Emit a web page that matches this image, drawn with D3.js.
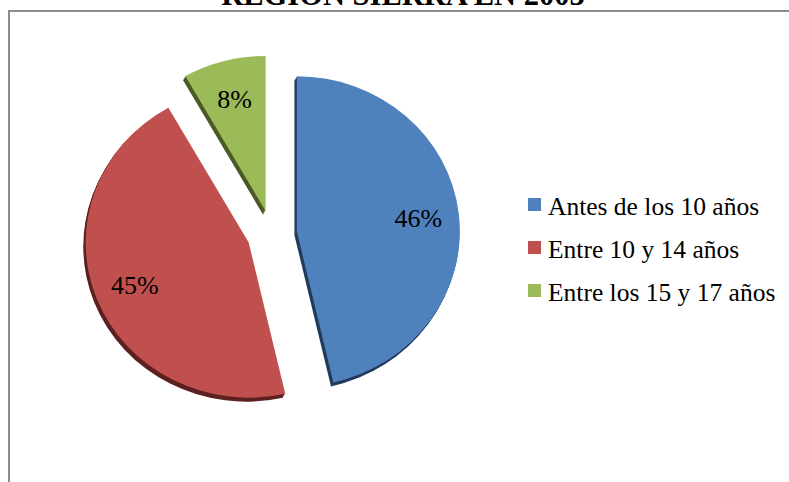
<!DOCTYPE html>
<html>
<head>
<meta charset="utf-8">
<script src="https://cdn.jsdelivr.net/npm/d3@7"></script>
<style>
  html, body { margin: 0; padding: 0; background: #fff; }
  svg { display: block; }
  svg text { font-family: "Times New Roman", "Liberation Serif", "DejaVu Serif", serif; }
</style>
</head>
<body>
<svg id="chart"></svg>
<script>
  const width = 789;
  const height = 482;

  // chart data
  const title = "REGION SIERRA EN 2003";
  const categories = ["Antes de los 10 años", "Entre 10 y 14 años", "Entre los 15 y 17 años"];
  const values = [46.4, 45.4, 8.2];
  const colors = ["#4f81bd", "#c0504d", "#9bbb59"];
  const sideColors = ["#223b5c", "#5c2120", "#4b5b27"];

  const radius = 163;
  const ky = 0.951;          // slight tilt of the pie
  const explode = 25;
  const depth = 4;
  const cx = 272, cy = 234;

  const svg = d3.select("#chart")
    .attr("width", width)
    .attr("height", height);

  // chart frame (runs past the right and bottom edge)
  svg.append("rect")
    .attr("x", 9)
    .attr("y", 11)
    .attr("width", 820)
    .attr("height", 520)
    .attr("fill", "none")
    .attr("stroke", "#8c8c8c")
    .attr("stroke-width", 2);

  // title, clipped at the top of the picture as in the original
  svg.append("text")
    .attr("x", 403)
    .attr("y", 5)
    .attr("text-anchor", "middle")
    .attr("font-weight", "bold")
    .attr("font-size", "30.5px")
    .attr("fill", "#000")
    .text(title);

  const pie = d3.pie().sort(null).value(d => d)(values);
  const arc = d3.arc().innerRadius(0).outerRadius(radius);

  const offset = d => {
    const a = (d.startAngle + d.endAngle) / 2;
    return [Math.sin(a) * explode, -Math.cos(a) * explode * ky];
  };

  const g = svg.append("g")
    .attr("transform", `translate(${cx},${cy})`);

  // side (thickness) of each slice
  for (let k = depth; k >= 1; k--) {
    g.selectAll(null)
      .data(pie)
      .enter()
      .append("path")
      .attr("transform", d => {
        const [ox, oy] = offset(d);
        return `translate(${ox - k * 0.6},${oy + k})scale(1,${ky})`;
      })
      .attr("d", arc)
      .attr("fill", (d, i) => sideColors[i]);
  }

  // top face of each slice
  g.selectAll(".slice")
    .data(pie)
    .enter()
    .append("path")
    .attr("class", "slice")
    .attr("transform", d => {
      const [ox, oy] = offset(d);
      return `translate(${ox},${oy})scale(1,${ky})`;
    })
    .attr("d", arc)
    .attr("fill", (d, i) => colors[i]);

  // percentage labels
  const labelArc = d3.arc().innerRadius(radius * 0.75).outerRadius(radius * 0.75);
  const total = d3.sum(values);
  g.selectAll(".pct")
    .data(pie)
    .enter()
    .append("text")
    .attr("class", "pct")
    .attr("x", d => offset(d)[0] + labelArc.centroid(d)[0])
    .attr("y", d => offset(d)[1] + labelArc.centroid(d)[1] * ky)
    .attr("dy", "0.35em")
    .attr("text-anchor", "middle")
    .attr("font-size", "26px")
    .attr("fill", "#000")
    .text(d => Math.round(d.value / total * 100) + "%");

  // legend
  const legend = svg.append("g")
    .attr("transform", "translate(528,198)");

  const row = legend.selectAll("g")
    .data(categories)
    .enter()
    .append("g")
    .attr("transform", (d, i) => `translate(0,${i * 43})`);

  row.append("rect")
    .attr("width", 13)
    .attr("height", 13)
    .attr("fill", (d, i) => colors[i]);

  row.append("text")
    .attr("x", 20)
    .attr("y", 17)
    .attr("font-size", "25.5px")
    .attr("fill", "#000")
    .text(d => d);
</script>
</body>
</html>
